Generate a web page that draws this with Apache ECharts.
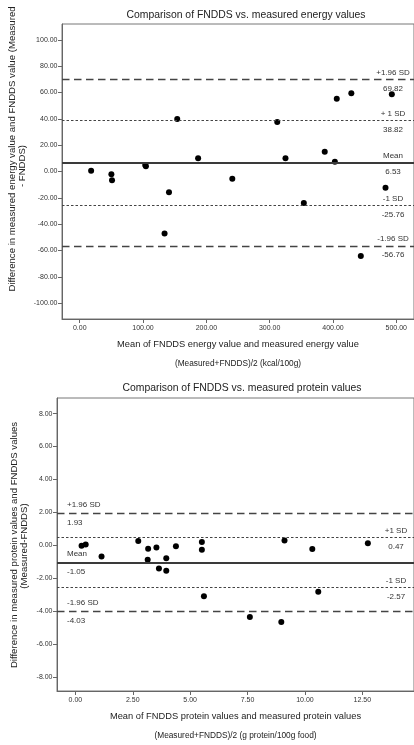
<!DOCTYPE html>
<html>
<head>
<meta charset="utf-8">
<title>Comparison of FNDDS vs. measured values</title>
<script src="https://cdn.jsdelivr.net/npm/echarts@6.0.0/dist/echarts.min.js"></script>
<style>
  html, body { margin: 0; padding: 0; background: #fff; }
  #main { width: 414px; height: 745px; }
</style>
</head>
<body>
<div id="main"></div>
<script>
// energy (kcal/100g)
const energyMean = [18, 50, 51, 103.5, 104.5, 134, 141, 154, 187, 241, 312, 325, 354, 387, 403, 406, 429, 444, 483, 493]
const energyDiff = [0.5, -2.1, -6.7, 5, 4, -47, -15.8, 39.8, 10, -5.5, 37.5, 10, -23.9, 15, 7.4, 55.2, 59.5, -64.2, -12.3, 58.7]
const energyLimits = [69.82, 38.82, 6.53, -25.76, -56.76]
const energyLimitNames = ['+1.96 SD', '+ 1 SD', 'Mean', '-1 SD', '-1.96 SD']
const energyXTicks = [0, 100, 200, 300, 400, 500]
const energyYTicks = [-100, -80, -60, -40, -20, 0, 20, 40, 60, 80, 100]

// protein (g/100g)
const proteinMean = [0.27, 0.45, 1.14, 2.74, 3.15, 3.17, 3.53, 3.64, 3.96, 3.96, 4.38, 5.51, 5.51, 5.6, 7.6, 8.97, 9.11, 10.32, 10.58, 12.74]
const proteinDiff = [-0.03, 0.05, -0.68, 0.26, -0.88, -0.21, -0.13, -1.41, -0.78, -1.54, -0.05, 0.2, -0.27, -3.1, -4.36, -4.66, 0.29, -0.23, -2.82, 0.13]
const proteinLimits = [1.93, 0.47, -1.05, -2.57, -4.03]
const proteinLimitNames = ['+1.96 SD', '+1 SD', 'Mean', '-1 SD', '-1.96 SD']
const proteinXTicks = [0, 2.5, 5, 7.5, 10, 12.5]
const proteinYTicks = [-8, -6, -4, -2, 0, 2, 4, 6, 8]

const font = '"Liberation Sans", Arial, sans-serif'
const ink = '#333'
const lineInk = '#444'

function lineStyleFor (i) {
  // 0,4 = 1.96 SD long dash, 1,3 = 1 SD short dash, 2 = mean
  if (i === 2) return {color: '#3a3a3a', width: 1.8, type: 'solid'}
  if (i === 1 || i === 3) return {color: lineInk, width: 1, type: [2.5, 2]}
  return {color: lineInk, width: 1.3, type: [7.5, 4.5]}
}

function limitLines (values, names, sides, rightGap) {
  return values.map((v, i) => {
    let left = sides[i] === 'left'
    return {
      yAxis: v,
      lineStyle: lineStyleFor(i),
      label: {
        show: true,
        position: left ? 'insideStart' : 'insideEnd',
        distance: left ? 10 : rightGap,
        fontFamily: font,
        color: ink,
        padding: left ? 0 : [3, 0, 0, 0],
        formatter: `{a|${names[i]}}\n{b|${v.toFixed(2)}}`,
        rich: {
          a: {fontSize: 8, fontFamily: font, color: ink, lineHeight: left ? 18 : 15, width: left ? 34 : 36, align: left ? 'left' : 'center'},
          b: {fontSize: 8, fontFamily: font, color: ink, lineHeight: left ? 18 : 17, width: left ? 34 : 36, align: left ? 'left' : 'center'}
        }
      }
    }
  })
}

function xAxisFor (gridIndex, min, max, ticks, title, sub) {
  return {
    type: 'value',
    gridIndex: gridIndex,
    min: min,
    max: max,
    splitLine: {show: false},
    axisLine: {show: true, onZero: false, lineStyle: {color: '#666', width: 1}},
    axisTick: {show: true, length: 4, customValues: ticks, lineStyle: {color: '#666'}},
    axisLabel: {
      customValues: ticks,
      margin: 6,
      fontSize: 7,
      fontFamily: font,
      color: ink,
      formatter: v => v.toFixed(2)
    },
    name: `{a|${title}}\n{b|${sub}}`,
    nameLocation: 'middle',
    nameGap: 15.5,
    nameTextStyle: {
      rich: {
        a: {fontSize: 9.3, fontFamily: font, color: '#222', lineHeight: 20},
        b: {fontSize: 8.3, fontFamily: font, color: '#222', lineHeight: 19}
      }
    }
  }
}

function yAxisFor (gridIndex, min, max, ticks) {
  return {
    type: 'value',
    gridIndex: gridIndex,
    min: min,
    max: max,
    splitLine: {show: false},
    axisLine: {show: true, onZero: false, lineStyle: {color: '#666', width: 1}},
    axisTick: {show: true, length: 4, customValues: ticks, lineStyle: {color: '#666'}},
    axisLabel: {
      customValues: ticks,
      margin: 4.5,
      fontSize: 7,
      fontFamily: font,
      color: ink,
      formatter: v => v.toFixed(2)
    }
  }
}

function toPoints (xs, ys) {
  return xs.map((x, i) => [x, ys[i]])
}

let myChart = echarts.init(document.getElementById('main'), null, {renderer: 'canvas'})

let option = {
  animation: false,
  backgroundColor: '#fff',
  title: [
    {
      text: 'Comparison of FNDDS vs. measured energy values',
      left: 241,
      top: 5,
      textAlign: 'center',
      textStyle: {fontSize: 10.4, fontWeight: 'normal', fontFamily: font, color: '#222'}
    },
    {
      text: 'Comparison of FNDDS vs. measured protein values',
      left: 237,
      top: 378,
      textAlign: 'center',
      textStyle: {fontSize: 10.4, fontWeight: 'normal', fontFamily: font, color: '#222'}
    }
  ],
  grid: [
    {left: 62, top: 24, right: -6, bottom: 426, show: true, borderColor: '#777', borderWidth: 1},
    {left: 57, top: 398, right: -3, bottom: 54, show: true, borderColor: '#777', borderWidth: 1}
  ],
  xAxis: [
    xAxisFor(0, -28, 528, energyXTicks, 'Mean of FNDDS energy value and measured energy value', '(Measured+FNDDS)/2 (kcal/100g)'),
    xAxisFor(1, -0.8, 14.75, proteinXTicks, 'Mean of FNDDS protein values and measured protein values', '(Measured+FNDDS)/2 (g protein/100g food)')
  ],
  yAxis: [
    yAxisFor(0, -112, 112, energyYTicks),
    yAxisFor(1, -8.85, 8.95, proteinYTicks)
  ],
  graphic: [
    {
      type: 'text', x: 12, y: 149, rotation: Math.PI / 2,
      style: {text: 'Difference in measured energy value and FNDDS value (Measured', fontSize: 9.6, fontFamily: font, fill: '#222', align: 'center', verticalAlign: 'middle'}
    },
    {
      type: 'text', x: 22, y: 166, rotation: Math.PI / 2,
      style: {text: '- FNDDS)', fontSize: 9.6, fontFamily: font, fill: '#222', align: 'center', verticalAlign: 'middle'}
    },
    {
      type: 'text', x: 14, y: 545, rotation: Math.PI / 2,
      style: {text: 'Difference in measured protein values and FNDDS values', fontSize: 9.6, fontFamily: font, fill: '#222', align: 'center', verticalAlign: 'middle'}
    },
    {
      type: 'text', x: 24, y: 546, rotation: Math.PI / 2,
      style: {text: '(Measured-FNDDS)', fontSize: 9.6, fontFamily: font, fill: '#222', align: 'center', verticalAlign: 'middle'}
    }
  ],
  series: [
    {
      type: 'scatter',
      xAxisIndex: 0,
      yAxisIndex: 0,
      symbolSize: 6,
      itemStyle: {color: '#000', opacity: 1},
      data: toPoints(energyMean, energyDiff),
      markLine: {
        silent: true,
        symbol: 'none',
        data: limitLines(energyLimits, energyLimitNames, ['right', 'right', 'right', 'right', 'right'], 3)
      }
    },
    {
      type: 'scatter',
      xAxisIndex: 1,
      yAxisIndex: 1,
      symbolSize: 6,
      itemStyle: {color: '#000', opacity: 1},
      data: toPoints(proteinMean, proteinDiff),
      markLine: {
        silent: true,
        symbol: 'none',
        data: limitLines(proteinLimits, proteinLimitNames, ['left', 'right', 'left', 'right', 'left'], 0)
      }
    }
  ]
}

myChart.setOption(option)
</script>
</body>
</html>
